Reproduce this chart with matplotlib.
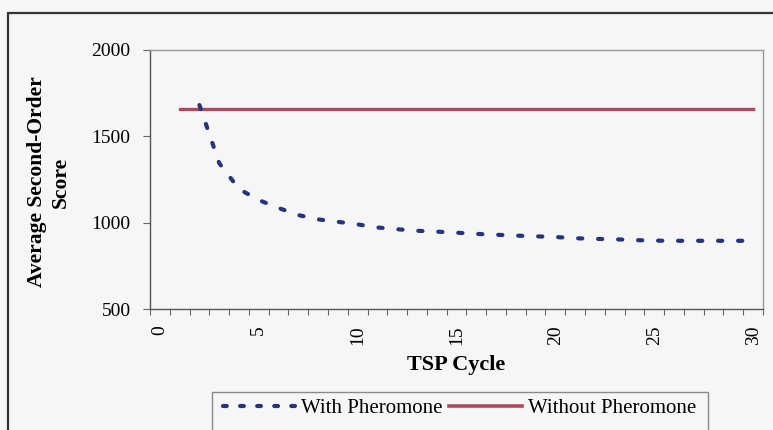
import matplotlib
matplotlib.use("Agg")
import matplotlib.pyplot as plt
from matplotlib.patches import Rectangle
from matplotlib.lines import Line2D

# Data
cycles_with = list(range(2, 31))
score_with = [1681, 1345, 1195, 1131, 1085, 1044, 1019, 1005, 990, 972,
              962, 953, 948, 942, 935, 930, 925, 921, 917, 910,
              906, 904, 899, 896, 895, 895, 895, 895, 895]
cycles_without = list(range(1, 31))
score_without = [1660] * len(cycles_without)
x_tick_labels = ["0", "5", "10", "15", "20", "25", "30"]
y_ticks = [500, 1000, 1500, 2000]

W, H = 773, 430
fig = plt.figure(figsize=(W / 100, H / 100), dpi=100)
bg = "#f6f6f6"
fig.patch.set_facecolor(bg)

serif = ["Liberation Serif", "DejaVu Serif"]

def fx(px):
    return px / W

def fy(py):
    return 1 - py / H

# Outer frame (partly beyond the canvas edge)
fig.patches.append(Rectangle((fx(8), -0.1), 1.2, fy(13) + 0.1,
                             transform=fig.transFigure, fill=False,
                             edgecolor="#333333", linewidth=1.6, zorder=0))

ax = fig.add_axes([fx(150), fy(309), fx(763) - fx(150), fy(50) - fy(309)])
ax.set_facecolor(bg)

blue = "#26337d"
red = "#b3475f"

lw = 3.0
ax.plot(cycles_with, score_with, color=blue, linewidth=lw,
        dashes=(1.0, 3.8), dash_capstyle="round", label="With Pheromone",
        zorder=3)
ax.plot(cycles_without, score_without, color=red, linewidth=2.4,
        label="Without Pheromone", zorder=2)

ax.set_xlim(-0.5, 30.5)
ax.set_ylim(500, 2000)

# Category axis: ticks at boundaries, labels every 5th category
ax.set_xticks(list(range(0, 31, 5)))
ax.set_xticklabels(x_tick_labels, rotation=90, fontfamily=serif, fontsize=14)
ax.set_xticks([i - 0.5 for i in range(32)], minor=True)
ax.tick_params(axis="x", which="major", length=0, pad=12)
ax.tick_params(axis="x", which="minor", length=4, direction="out",
               color="#666666", width=0.8)

ax.set_yticks(y_ticks)
ax.set_yticklabels([str(v) for v in y_ticks], fontfamily=serif, fontsize=14)
ax.tick_params(axis="y", which="major", length=5, direction="out",
               color="#666666", width=0.8, pad=9)

for side in ("left", "bottom"):
    ax.spines[side].set_color("#555555")
    ax.spines[side].set_linewidth(1.0)
for side in ("top", "right"):
    ax.spines[side].set_color("#9a9a9a")
    ax.spines[side].set_linewidth(1.0)

# Axis titles
fig.text(fx(49), fy(182), "Average Second-Order\nScore", rotation=90,
         ha="center", va="center", multialignment="center",
         fontfamily=serif, fontsize=15.5, fontweight="bold", linespacing=1.3)
fig.text(fx(456), fy(365), "TSP Cycle", ha="center", va="center",
         fontfamily=serif, fontsize=16, fontweight="bold")

# Legend
handles = [Line2D([], [], color=blue, linewidth=lw, dashes=(0.9, 3.2),
                  dash_capstyle="round"),
           Line2D([], [], color=red, linewidth=2.6)]
leg = fig.legend(handles, ["With Pheromone", "Without Pheromone"],
                 loc="center left", bbox_to_anchor=(fx(208), fy(408)),
                 bbox_transform=fig.transFigure, ncol=2, frameon=False,
                 prop={"family": serif, "size": 15},
                 handlelength=3.5, handletextpad=0.25, columnspacing=0.35,
                 borderpad=0.2)
fig.patches.append(Rectangle((fx(212), -0.1), fx(708) - fx(212),
                             fy(392) + 0.1, transform=fig.transFigure,
                             fill=False, edgecolor="#8a8a8a", linewidth=1.0))

fig.savefig("out.png", dpi=100, facecolor=bg)
